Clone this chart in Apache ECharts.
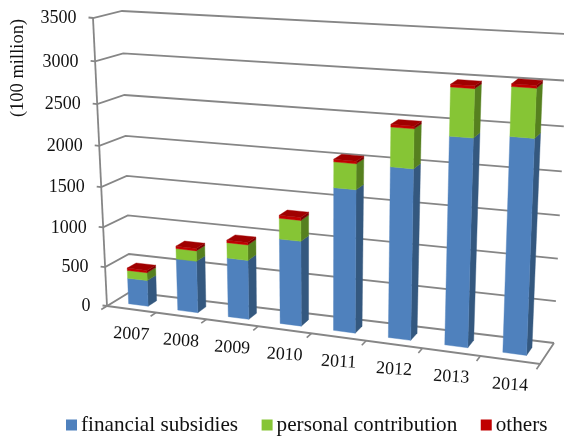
<!DOCTYPE html>
<html><head><meta charset="utf-8">
<style>html,body{margin:0;padding:0;background:#fff}#c{width:564px;height:437px}</style>
<script src="https://cdn.jsdelivr.net/npm/echarts@6/dist/echarts.min.js"></script></head>
<body><div id="c"></div>
<script>
var years = ['2007','2008','2009','2010','2011','2012','2013','2014'];
var financial = [330,650,735,1040,1715,2015,2415,2465];
var personal = [100,130,190,250,300,450,540,540];
var others = [30,30,30,35,30,30,30,30];
var yTicks = [0,500,1000,1500,2000,2500,3000,3500];

var font = '"Liberation Serif","Times New Roman",serif';
var lineC = '#868686';
// perspective box corners: [x,y] keyed by right/top/back
var box = {
  f00:[107,306], f10:[540,364], f01:[93,18],  f11:[552,46],
  b00:[130,292], b10:[554,343], b01:[122,11], b11:[568,34]
};
var warpX = 1.118, warpY = 1.066;
function lerp(a,b,k){return [a[0]+(b[0]-a[0])*k,a[1]+(b[1]-a[1])*k];}
function project(t,v,z){
  var T=t/(warpX*(1-t)+t), V=v/(warpY*(1-v)+v);
  var f=lerp(lerp(box.f00,box.f10,T),lerp(box.f01,box.f11,T),V);
  var b=lerp(lerp(box.b00,box.b10,T),lerp(box.b01,box.b11,T),V);
  return lerp(f,b,z);
}
var W=564,H=437;
function poly(pts,fill){return {type:'polygon',shape:{points:pts},style:{fill:fill,stroke:fill,lineWidth:0.4}};}
function line(pts,w){return {type:'polyline',shape:{points:pts},style:{fill:null,stroke:lineC,lineWidth:w||2}};}

function barSeries(name,front,side,top,drawTop,vals,under){
  var data=years.map(function(y,i){return [i,under[i],under[i]+vals[i]];});
  return {type:'custom',name:name,itemStyle:{color:front},coordinateSystem:'cartesian2d',clip:false,z:3,
    encode:{x:0,y:2},data:data,
    renderItem:function(p,api){
      var i=api.value(0),a=api.coord([i,api.value(1)]),c=api.coord([i,api.value(2)]);
      var band=api.size([1,0])[0]/W;
      var tc=a[0]/W, t0=tc-band*0.195, t1=tc+band*0.205;
      var v0=1-a[1]/H, v1=1-c[1]/H, z0=0.3, z1=0.68;
      var kids=[
        poly([project(t1,v0,z0),project(t1,v0,z1),project(t1,v1,z1),project(t1,v1,z0)],side),
        poly([project(t0,v0,z0),project(t1,v0,z0),project(t1,v1,z0),project(t0,v1,z0)],front)
      ];
      if(drawTop) kids.push(poly([project(t0,v1,z0),project(t1,v1,z0),project(t1,v1,z1),project(t0,v1,z1)],top));
      return {type:'group',children:kids};
    }};
}
var under1=years.map(function(){return 0;});
var under2=financial.slice();
var under3=financial.map(function(v,i){return v+personal[i];});

var wallSeries={type:'custom',name:'grid',silent:true,clip:false,z:1,data:yTicks.map(function(v){return [0,v];}),encode:{x:0,y:1},
  renderItem:function(p,api){
    var val=api.value(1),c=api.coord([0,val]),v=1-c[1]/H;
    var a=project(0,v,0);
    var kids=[line([[a[0]-4.5,a[1]-0.5],a,project(0,v,1),project(1,v,1)],1.8),
      {type:'text',style:{x:a[0]-16.5,y:a[1]+0.5,text:String(val),align:'right',verticalAlign:'middle',font:'18px '+font,fill:'#111'}}];
    return {type:'group',children:kids};
  }};
var floorSeries={type:'custom',name:'floor',silent:true,clip:false,z:2,data:[[0,0]],encode:{x:0,y:1},
  renderItem:function(p,api){
    return {type:'group',children:[
      line([project(0,1,0),project(0,0,0)],1.8),
      line([project(0,0,0),project(1,0,0),project(1,0,1)],1.8)
    ]};
  }};
var catSeries={type:'custom',name:'cats',silent:true,clip:false,z:2,data:years.map(function(y,i){return [i,0];}),encode:{x:0,y:1},
  renderItem:function(p,api){
    var i=api.value(0),c=api.coord([i,0]),band=api.size([1,0])[0]/W,t=c[0]/W;
    var m=project(t,0,0),e0=project(t-band/2,0,0),e1=project(t-band/2,0,-0.25);
    var e2=project(t+band/2,0,0),e3=project(t+band/2,0,-0.25);
    var kids=[line([e0,e1],1.6),
      {type:'text',x:m[0],y:m[1]+25,rotation:-0.06,style:{text:years[i],align:'center',verticalAlign:'middle',font:'18px '+font,fill:'#111'}}];
    if(i===years.length-1) kids.push(line([e2,e3],1.6));
    return {type:'group',children:kids};
  }};

var chart=echarts.init(document.getElementById('c'),null,{renderer:'canvas'});
chart.setOption({
  animation:false,backgroundColor:'#fff',
  grid:{left:0,top:0,width:W,height:H,containLabel:false},
  xAxis:{type:'category',data:years,show:false},
  yAxis:{type:'value',min:0,max:3500,interval:500,show:false},
  legend:{left:62,top:414.5,itemWidth:11,itemHeight:11,itemGap:23.5,icon:'rect',padding:[0,4],
    data:['financial subsidies','personal contribution','others'],
    textStyle:{fontFamily:font,fontSize:21.2,color:'#111',padding:[0,0,0,-1]}},
  graphic:[{type:'text',x:18,y:68,rotation:Math.PI/2,
    style:{text:'(100 million)',align:'center',verticalAlign:'middle',font:'18.5px '+font,fill:'#111'}}],
  series:[wallSeries,floorSeries,catSeries,
    barSeries('financial subsidies','#4F81BD','#34587F','#4F81BD',false,financial,under1),
    barSeries('personal contribution','#86C535','#56801F','#86C535',false,personal,under2),
    barSeries('others','#C00000','#7E0000','#A00000',true,others,under3)]
});
</script></body></html>
